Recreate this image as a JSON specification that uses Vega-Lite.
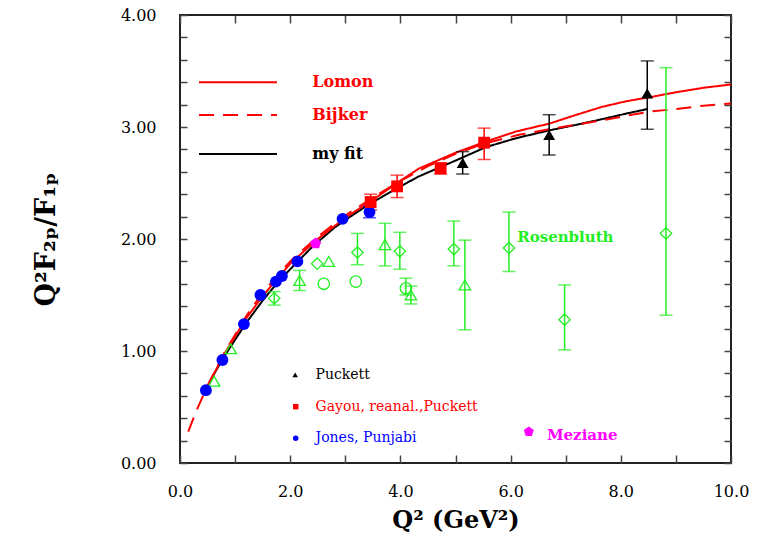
{
  "$schema": "https://vega.github.io/schema/vega-lite/v6.json",
  "width": 551,
  "height": 448,
  "autosize": {"type": "none"},
  "padding": {"left": 180, "top": 15, "right": 34, "bottom": 73},
  "background": "white",
  "config": {
    "view": {"stroke": "#222", "strokeWidth": 2},
    "font": "DejaVu Serif"
  },
  "datasets": {
    "pts": [
      {"q2": 0.47, "val": 0.65, "k": "Jones"},
      {"q2": 0.77, "val": 0.92, "k": "Jones"},
      {"q2": 1.16, "val": 1.24, "k": "Jones"},
      {"q2": 1.46, "val": 1.5, "k": "Jones"},
      {"q2": 1.74, "val": 1.62, "k": "Jones"},
      {"q2": 1.85, "val": 1.67, "k": "Jones"},
      {"q2": 2.13, "val": 1.8, "k": "Jones"},
      {"q2": 2.95, "val": 2.18, "k": "Jones"},
      {"q2": 3.44, "val": 2.24, "k": "Jones", "lo": 2.19, "hi": 2.29},
      {"q2": 2.46, "val": 1.96, "k": "Meziane"},
      {"q2": 3.46, "val": 2.33, "k": "Gayou", "lo": 2.26, "hi": 2.4},
      {"q2": 3.94, "val": 2.47, "k": "Gayou", "lo": 2.37, "hi": 2.57},
      {"q2": 4.73, "val": 2.63, "k": "Gayou", "lo": 2.58, "hi": 2.68},
      {"q2": 5.52, "val": 2.86, "k": "Gayou", "lo": 2.71, "hi": 2.99},
      {"q2": 5.13, "val": 2.68, "k": "Puckett", "lo": 2.58, "hi": 2.78},
      {"q2": 6.7, "val": 2.93, "k": "Puckett", "lo": 2.75, "hi": 3.11},
      {"q2": 8.48, "val": 3.3, "k": "Puckett", "lo": 2.98, "hi": 3.59},
      {"q2": 0.62, "val": 0.73, "k": "RosA"},
      {"q2": 0.92, "val": 1.02, "k": "RosA"},
      {"q2": 2.17, "val": 1.63, "k": "RosA", "lo": 1.54, "hi": 1.72},
      {"q2": 2.7, "val": 1.8, "k": "RosA"},
      {"q2": 3.72, "val": 1.95, "k": "RosA", "lo": 1.76, "hi": 2.14},
      {"q2": 4.19, "val": 1.5, "k": "RosA", "lo": 1.42, "hi": 1.58},
      {"q2": 5.17, "val": 1.59, "k": "RosA", "lo": 1.19, "hi": 1.99},
      {"q2": 1.71, "val": 1.47, "k": "RosB", "lo": 1.41, "hi": 1.53},
      {"q2": 2.49, "val": 1.78, "k": "RosB"},
      {"q2": 3.22, "val": 1.88, "k": "RosB", "lo": 1.77, "hi": 2.05},
      {"q2": 3.99, "val": 1.89, "k": "RosB", "lo": 1.73, "hi": 2.06},
      {"q2": 4.97, "val": 1.91, "k": "RosB", "lo": 1.76, "hi": 2.16},
      {"q2": 5.97, "val": 1.92, "k": "RosB", "lo": 1.71, "hi": 2.24},
      {"q2": 6.98, "val": 1.28, "k": "RosB", "lo": 1.01, "hi": 1.59},
      {"q2": 8.82, "val": 2.05, "k": "RosB", "lo": 1.32, "hi": 3.53},
      {"q2": 2.61, "val": 1.6, "k": "RosC"},
      {"q2": 3.19, "val": 1.62, "k": "RosC"},
      {"q2": 4.1, "val": 1.56, "k": "RosC", "lo": 1.5, "hi": 1.65}
    ],
    "curves": [
      {"q2": 0.45, "val": 0.62, "k": "my fit"},
      {"q2": 0.6, "val": 0.78, "k": "my fit"},
      {"q2": 0.8, "val": 0.95, "k": "my fit"},
      {"q2": 1.0, "val": 1.1, "k": "my fit"},
      {"q2": 1.2, "val": 1.25, "k": "my fit"},
      {"q2": 1.5, "val": 1.45, "k": "my fit"},
      {"q2": 1.75, "val": 1.6, "k": "my fit"},
      {"q2": 2.0, "val": 1.73, "k": "my fit"},
      {"q2": 2.4, "val": 1.93, "k": "my fit"},
      {"q2": 2.8, "val": 2.1, "k": "my fit"},
      {"q2": 3.0, "val": 2.17, "k": "my fit"},
      {"q2": 3.43, "val": 2.31, "k": "my fit"},
      {"q2": 4.0, "val": 2.47, "k": "my fit"},
      {"q2": 4.34, "val": 2.56, "k": "my fit"},
      {"q2": 5.0, "val": 2.7, "k": "my fit"},
      {"q2": 5.55, "val": 2.82, "k": "my fit"},
      {"q2": 6.1, "val": 2.9, "k": "my fit"},
      {"q2": 6.7, "val": 2.97, "k": "my fit"},
      {"q2": 7.2, "val": 3.02, "k": "my fit"},
      {"q2": 7.66, "val": 3.07, "k": "my fit"},
      {"q2": 8.1, "val": 3.12, "k": "my fit"},
      {"q2": 8.48, "val": 3.16, "k": "my fit"},
      {"q2": 0.45, "val": 0.64, "k": "Lomon"},
      {"q2": 0.8, "val": 0.97, "k": "Lomon"},
      {"q2": 1.2, "val": 1.29, "k": "Lomon"},
      {"q2": 1.5, "val": 1.49, "k": "Lomon"},
      {"q2": 2.0, "val": 1.78, "k": "Lomon"},
      {"q2": 2.5, "val": 2.0, "k": "Lomon"},
      {"q2": 3.0, "val": 2.19, "k": "Lomon"},
      {"q2": 3.5, "val": 2.35, "k": "Lomon"},
      {"q2": 4.0, "val": 2.52, "k": "Lomon"},
      {"q2": 4.34, "val": 2.63, "k": "Lomon"},
      {"q2": 5.0, "val": 2.77, "k": "Lomon"},
      {"q2": 5.55, "val": 2.87, "k": "Lomon"},
      {"q2": 6.1, "val": 2.96, "k": "Lomon"},
      {"q2": 6.7, "val": 3.03, "k": "Lomon"},
      {"q2": 7.2, "val": 3.11, "k": "Lomon"},
      {"q2": 7.66, "val": 3.18, "k": "Lomon"},
      {"q2": 8.1, "val": 3.23, "k": "Lomon"},
      {"q2": 8.57, "val": 3.27, "k": "Lomon"},
      {"q2": 9.0, "val": 3.31, "k": "Lomon"},
      {"q2": 9.5, "val": 3.35, "k": "Lomon"},
      {"q2": 10.0, "val": 3.38, "k": "Lomon"},
      {"q2": 0.15, "val": 0.28, "k": "Bijker"},
      {"q2": 0.3, "val": 0.47, "k": "Bijker"},
      {"q2": 0.5, "val": 0.69, "k": "Bijker"},
      {"q2": 0.8, "val": 0.98, "k": "Bijker"},
      {"q2": 1.2, "val": 1.31, "k": "Bijker"},
      {"q2": 1.5, "val": 1.52, "k": "Bijker"},
      {"q2": 2.0, "val": 1.8, "k": "Bijker"},
      {"q2": 2.5, "val": 2.02, "k": "Bijker"},
      {"q2": 3.0, "val": 2.21, "k": "Bijker"},
      {"q2": 3.5, "val": 2.37, "k": "Bijker"},
      {"q2": 4.0, "val": 2.52, "k": "Bijker"},
      {"q2": 4.5, "val": 2.65, "k": "Bijker"},
      {"q2": 5.0, "val": 2.76, "k": "Bijker"},
      {"q2": 5.5, "val": 2.85, "k": "Bijker"},
      {"q2": 6.15, "val": 2.93, "k": "Bijker"},
      {"q2": 6.7, "val": 2.98, "k": "Bijker"},
      {"q2": 7.18, "val": 3.02, "k": "Bijker"},
      {"q2": 7.66, "val": 3.06, "k": "Bijker"},
      {"q2": 8.1, "val": 3.1, "k": "Bijker"},
      {"q2": 8.57, "val": 3.14, "k": "Bijker"},
      {"q2": 9.0, "val": 3.16, "k": "Bijker"},
      {"q2": 9.5, "val": 3.19, "k": "Bijker"},
      {"q2": 10.0, "val": 3.21, "k": "Bijker"}
    ],
    "legLines": [
      {"q2": 0.345, "q2e": 1.76, "tx": 2.4, "val": 3.4, "k": "Lomon", "label": "Lomon"},
      {"q2": 0.345, "q2e": 1.76, "tx": 2.4, "val": 3.107, "k": "Bijker", "label": "Bijker"},
      {"q2": 0.345, "q2e": 1.76, "tx": 2.4, "val": 2.76, "k": "my fit", "label": "my fit"}
    ],
    "legMarks": [
      {"q2": 2.09, "tx": 2.46, "val": 0.786, "k": "Puckett", "label": "Puckett"},
      {"q2": 2.1, "tx": 2.46, "val": 0.503, "k": "Gayou", "label": "Gayou, reanal.,Puckett"},
      {"q2": 2.1, "tx": 2.46, "val": 0.22, "k": "Jones", "label": "Jones, Punjabi"}
    ],
    "other": [
      {"q2": 6.66, "val": 0.25, "k": "Meziane", "label": "Meziane"},
      {"q2": 6.12, "val": 2.02, "k": "Rosenbluth", "label": "Rosenbluth"}
    ],
    "mez": [
      {"q2": 6.33, "val": 0.28, "k": "Meziane"}
    ]
  },
  "resolve": {"axis": {"x": "independent", "y": "independent"}},
  "layer": [
    {
      "data": {"name": "curves"},
      "mark": {"type": "line", "strokeWidth": 2},
      "encoding": {
        "x": {
          "field": "q2", "type": "quantitative",
          "scale": {"domain": [0, 10], "nice": false, "zero": false},
          "axis": {
            "orient": "bottom",
            "title": "Q²  (GeV²)",
            "titleFont": "DejaVu Serif", "titleFontSize": 24, "titleFontWeight": "bold", "titleColor": "#000",
            "titlePadding": 9,
            "values": [0, 1, 2, 3, 4, 5, 6, 7, 8, 9, 10],
            "labelExpr": "datum.value % 2 === 0 ? format(datum.value, '.1f') : ''",
            "labelFont": "DejaVu Serif", "labelFontSize": 16, "labelColor": "#000",
            "labelPadding": 28, "labelFlush": false, "labelOverlap": false,
            "domain": false, "grid": false,
            "tickColor": "#444", "tickWidth": 1.5,
            "tickSize": -8
          }
        },
        "y": {
          "field": "val", "type": "quantitative",
          "scale": {"domain": [0, 4], "nice": false, "zero": false},
          "axis": {
            "orient": "left",
            "title": "Q²F₂ₚ/F₁ₚ",
            "titleFont": "DejaVu Serif", "titleFontSize": 27, "titleFontWeight": "bold", "titleColor": "#000",
            "titlePadding": 60,
            "values": [0, 0.2, 0.4, 0.6, 0.8, 1, 1.2, 1.4, 1.6, 1.8, 2, 2.2, 2.4, 2.6, 2.8, 3, 3.2, 3.4, 3.6, 3.8, 4],
            "labelExpr": "abs(datum.value - round(datum.value)) < 0.001 ? format(datum.value, '.2f') : ''",
            "labelFont": "DejaVu Serif", "labelFontSize": 16, "labelColor": "#000",
            "labelPadding": 31, "labelFlush": false, "labelOverlap": false,
            "domain": false, "grid": false,
            "tickColor": "#444", "tickWidth": 1.5,
            "tickSize": -7
          }
        },
        "detail": {"field": "k"},
        "color": {
          "field": "k", "type": "nominal", "legend": null,
          "scale": {
            "domain": ["Lomon", "Bijker", "my fit", "Puckett", "Gayou", "Jones", "Meziane", "RosA", "RosB", "RosC", "Rosenbluth"],
            "range": ["#ff0000", "#ff0000", "#000000", "#000000", "#ff0000", "#0000ff", "#ff00ff", "#22ee22", "#22ee22", "#22ee22", "#22ee22"]
          }
        },
        "strokeDash": {
          "field": "k", "type": "nominal", "legend": null,
          "scale": {"domain": ["Lomon", "Bijker", "my fit"], "range": [[1, 0], [15, 9], [1, 0]]}
        }
      }
    },
    {
      "data": {"name": "legLines"},
      "mark": {"type": "rule", "strokeWidth": 2},
      "encoding": {
        "x": {"field": "q2", "type": "quantitative", "axis": null},
        "x2": {"field": "q2e"},
        "y": {"field": "val", "type": "quantitative", "axis": null},
        "color": {"field": "k", "type": "nominal", "legend": null},
        "strokeDash": {"field": "k", "type": "nominal", "legend": null}
      }
    },
    {
      "data": {"name": "legLines"},
      "mark": {"type": "text", "align": "left", "baseline": "middle", "font": "DejaVu Serif", "fontSize": 16, "fontWeight": "bold"},
      "encoding": {
        "x": {"field": "tx", "type": "quantitative", "axis": null},
        "y": {"field": "val", "type": "quantitative", "axis": null},
        "color": {"field": "k", "type": "nominal", "legend": null},
        "text": {"field": "label"}
      }
    },
    {
      "data": {"name": "pts"},
      "transform": [{"filter": "isValid(datum.lo)"}],
      "mark": {"type": "rule", "strokeWidth": 1.5},
      "encoding": {
        "x": {"field": "q2", "type": "quantitative", "axis": null},
        "y": {"field": "lo", "type": "quantitative", "axis": null},
        "y2": {"field": "hi"},
        "color": {"field": "k", "type": "nominal", "legend": null}
      }
    },
    {
      "data": {"name": "pts"},
      "transform": [{"filter": "isValid(datum.lo)"}],
      "mark": {"type": "tick", "orient": "horizontal", "size": 13, "thickness": 1.5},
      "encoding": {
        "x": {"field": "q2", "type": "quantitative", "axis": null},
        "y": {"field": "lo", "type": "quantitative", "axis": null},
        "color": {"field": "k", "type": "nominal", "legend": null}
      }
    },
    {
      "data": {"name": "pts"},
      "transform": [{"filter": "isValid(datum.lo)"}],
      "mark": {"type": "tick", "orient": "horizontal", "size": 13, "thickness": 1.5},
      "encoding": {
        "x": {"field": "q2", "type": "quantitative", "axis": null},
        "y": {"field": "hi", "type": "quantitative", "axis": null},
        "color": {"field": "k", "type": "nominal", "legend": null}
      }
    },
    {
      "data": {"name": "pts"},
      "transform": [{"filter": "datum.k === 'RosA' || datum.k === 'RosB' || datum.k === 'RosC'"}],
      "mark": {"type": "point", "filled": false, "strokeWidth": 1.3, "opacity": 1, "size": 130},
      "encoding": {
        "x": {"field": "q2", "type": "quantitative", "axis": null},
        "y": {"field": "val", "type": "quantitative", "axis": null},
        "color": {"field": "k", "type": "nominal", "legend": null},
        "shape": {
          "field": "k", "type": "nominal", "legend": null,
          "scale": {
            "domain": ["Puckett", "Gayou", "Jones", "Meziane", "RosA", "RosB", "RosC"],
            "range": ["triangle-up", "square", "circle", "M0,-1L0.951,-0.309L0.588,0.809L-0.588,0.809L-0.951,-0.309Z", "triangle-up", "diamond", "circle"]
          }
        }
      }
    },
    {
      "data": {"name": "pts"},
      "transform": [{"filter": "datum.k === 'Puckett' || datum.k === 'Gayou' || datum.k === 'Jones' || datum.k === 'Meziane'"}],
      "mark": {"type": "point", "filled": true, "opacity": 1, "size": 140},
      "encoding": {
        "x": {"field": "q2", "type": "quantitative", "axis": null},
        "y": {"field": "val", "type": "quantitative", "axis": null},
        "color": {"field": "k", "type": "nominal", "legend": null},
        "shape": {"field": "k", "type": "nominal", "legend": null}
      }
    },
    {
      "data": {"name": "legMarks"},
      "mark": {"type": "point", "filled": true, "opacity": 1, "size": 30},
      "encoding": {
        "x": {"field": "q2", "type": "quantitative", "axis": null},
        "y": {"field": "val", "type": "quantitative", "axis": null},
        "color": {"field": "k", "type": "nominal", "legend": null},
        "shape": {"field": "k", "type": "nominal", "legend": null}
      }
    },
    {
      "data": {"name": "mez"},
      "mark": {"type": "point", "filled": true, "opacity": 1, "size": 110},
      "encoding": {
        "x": {"field": "q2", "type": "quantitative", "axis": null},
        "y": {"field": "val", "type": "quantitative", "axis": null},
        "color": {"field": "k", "type": "nominal", "legend": null},
        "shape": {"field": "k", "type": "nominal", "legend": null}
      }
    },
    {
      "data": {"name": "legMarks"},
      "mark": {"type": "text", "align": "left", "baseline": "middle", "font": "DejaVu Serif", "fontSize": 14},
      "encoding": {
        "x": {"field": "tx", "type": "quantitative", "axis": null},
        "y": {"field": "val", "type": "quantitative", "axis": null},
        "color": {"field": "k", "type": "nominal", "legend": null},
        "text": {"field": "label"}
      }
    },
    {
      "data": {"name": "other"},
      "mark": {"type": "text", "align": "left", "baseline": "middle", "font": "DejaVu Serif", "fontSize": 15, "fontWeight": "bold"},
      "encoding": {
        "x": {"field": "q2", "type": "quantitative", "axis": null},
        "y": {"field": "val", "type": "quantitative", "axis": null},
        "color": {"field": "k", "type": "nominal", "legend": null},
        "text": {"field": "label"}
      }
    },
    {
      "data": {"name": "mez"},
      "mark": {"type": "point", "opacity": 0},
      "encoding": {
        "x": {
          "field": "q2", "type": "quantitative",
          "axis": {
            "orient": "top", "title": null, "labels": false, "domain": false, "grid": false,
            "values": [0, 1, 2, 3, 4, 5, 6, 7, 8, 9, 10],
            "tickColor": "#444", "tickWidth": 1.5, "tickSize": -8
          }
        },
        "y": {
          "field": "val", "type": "quantitative",
          "axis": {
            "orient": "right", "title": null, "labels": false, "domain": false, "grid": false,
            "values": [0, 0.2, 0.4, 0.6, 0.8, 1, 1.2, 1.4, 1.6, 1.8, 2, 2.2, 2.4, 2.6, 2.8, 3, 3.2, 3.4, 3.6, 3.8, 4],
            "tickColor": "#444", "tickWidth": 1.5, "tickSize": -7
          }
        }
      }
    }
  ]
}
